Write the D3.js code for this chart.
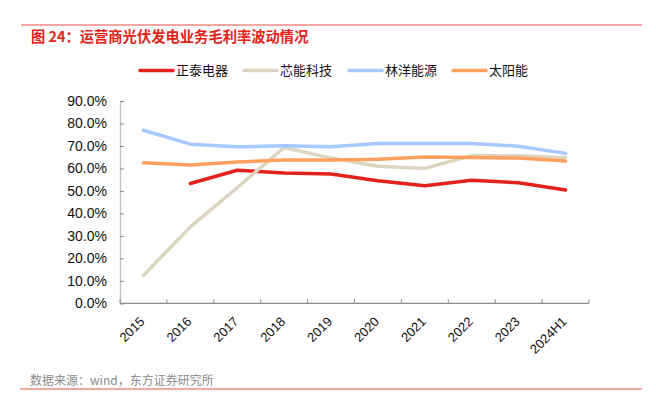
<!DOCTYPE html>
<html>
<head>
<meta charset="utf-8">
<script src="https://cdn.jsdelivr.net/npm/d3@7"></script>
<style>
  body { margin: 0; background: #fff; }
  svg { display: block; font-family: "Liberation Sans", Arial, "Noto Sans CJK SC", sans-serif; }
</style>
</head>
<body>
<svg id="chart" width="656" height="410"></svg>
<script>
// data (gross margin, %)
const categories = ['2015', '2016', '2017', '2018', '2019', '2020', '2021', '2022', '2023', '2024H1'];
const zhengtai = [null, 53.3, 59.2, 58.0, 57.5, 54.5, 52.3, 54.7, 53.6, 50.4];
const xinneng = [12.4, 34.0, 51.5, 69.3, 64.6, 61.0, 60.0, 65.7, 65.6, 64.8];
const linyang = [77.0, 70.8, 69.6, 70.1, 69.6, 71.1, 71.1, 71.1, 69.9, 66.7];
const taiyang = [62.5, 61.5, 62.9, 63.7, 63.7, 64.1, 65.1, 64.9, 64.6, 63.3];
const seriesNames = ['正泰电器', '芯能科技', '林洋能源', '太阳能'];
const yTicks = [0, 10, 20, 30, 40, 50, 60, 70, 80, 90];

const colours = ['#E3221C', '#DED5C0', '#A8C9FF', '#FFA05E'];
const seriesData = [zhengtai, xinneng, linyang, taiyang];

const svg = d3.select('#chart');
const margin = { top: 101, bottom: 303.3, left: 120, right: 589 };

// title + rules
svg.append('line').attr('x1', 21).attr('x2', 642).attr('y1', 25).attr('y2', 25)
  .attr('stroke', '#F38A86').attr('stroke-width', 1.5);
svg.append('text').attr('x', 31).attr('y', 41.5)
  .attr('font-size', 14.3).attr('font-weight', 'bold').attr('fill', '#E2231A')
  .attr('font-family', '"Noto Sans CJK SC", sans-serif')
  .text('图 24：运营商光伏发电业务毛利率波动情况');

svg.append('line').attr('x1', 20).attr('x2', 642).attr('y1', 389).attr('y2', 389)
  .attr('stroke', '#F38A86').attr('stroke-width', 1.5);
svg.append('text').attr('x', 30).attr('y', 384.5)
  .attr('font-size', 12).attr('fill', '#8C8C8C')
  .attr('font-family', '"Noto Sans CJK SC", sans-serif')
  .text('数据来源：wind，东方证券研究所');

// scales
const x = d3.scaleBand().domain(categories).range([margin.left, margin.right]);
const y = d3.scaleLinear().domain([0, 90]).range([margin.bottom, margin.top]);

// y axis
const yAxis = svg.append('g')
  .attr('transform', `translate(${margin.left},0)`)
  .call(d3.axisRight(y).tickValues(yTicks).tickSize(4).tickFormat(''));
yAxis.select('.domain').attr('stroke', '#C4C4C4').attr('stroke-width', 1.3);
yAxis.selectAll('.tick line').attr('stroke', '#8C8C8C');

svg.append('g').selectAll('text')
  .data(yTicks)
  .enter().append('text')
  .attr('x', 107)
  .attr('y', d => y(d) + 5)
  .attr('text-anchor', 'end')
  .attr('font-size', 14)
  .attr('fill', '#111')
  .text(d => d.toFixed(1) + '%');

// x axis: baseline with ticks at category boundaries, pointing up
const xAxis = svg.append('g');
xAxis.append('line')
  .attr('x1', margin.left).attr('x2', margin.right)
  .attr('y1', y(0)).attr('y2', y(0))
  .attr('stroke', '#8C8C8C').attr('stroke-width', 1.2);
const bounds = categories.map(c => x(c)).concat([margin.right]);
xAxis.selectAll('.xtick')
  .data(bounds)
  .enter().append('line')
  .attr('class', 'xtick')
  .attr('x1', d => d).attr('x2', d => d)
  .attr('y1', y(0)).attr('y2', y(0) - 4)
  .attr('stroke', '#8C8C8C');
xAxis.selectAll('.xlabel')
  .data(categories)
  .enter().append('text')
  .attr('class', 'xlabel')
  .attr('text-anchor', 'end')
  .attr('font-size', 13)
  .attr('fill', '#111')
  .attr('transform', d => `translate(${x(d) + x.bandwidth() / 2 + 2},${y(0) + 19}) rotate(-45)`)
  .text(d => d);

// lines
const line = d3.line()
  .defined(d => d.v != null)
  .x(d => x(d.c) + x.bandwidth() / 2)
  .y(d => y(d.v));

seriesData.forEach((vals, i) => {
  svg.append('path')
    .datum(categories.map((c, j) => ({ c: c, v: vals[j] })))
    .attr('fill', 'none')
    .attr('stroke', colours[i])
    .attr('stroke-width', 3.5)
    .attr('stroke-linejoin', 'round')
    .attr('stroke-linecap', 'round')
    .attr('d', line);
});

// legend
const legendX = [140, 244, 349, 453];
const legend = svg.append('g').selectAll('g')
  .data(seriesNames)
  .enter().append('g')
  .attr('transform', (d, i) => `translate(${legendX[i]},70.5)`);
legend.append('line')
  .attr('x1', 0).attr('x2', 33).attr('y1', 0).attr('y2', 0)
  .attr('stroke', (d, i) => colours[i])
  .attr('stroke-width', 3.5)
  .attr('stroke-linecap', 'round');
legend.append('text')
  .attr('x', 36).attr('y', 4.8)
  .attr('font-size', 13)
  .attr('fill', '#111')
  .attr('font-family', '"Noto Sans CJK SC", sans-serif')
  .text(d => d);
</script>
</body>
</html>
